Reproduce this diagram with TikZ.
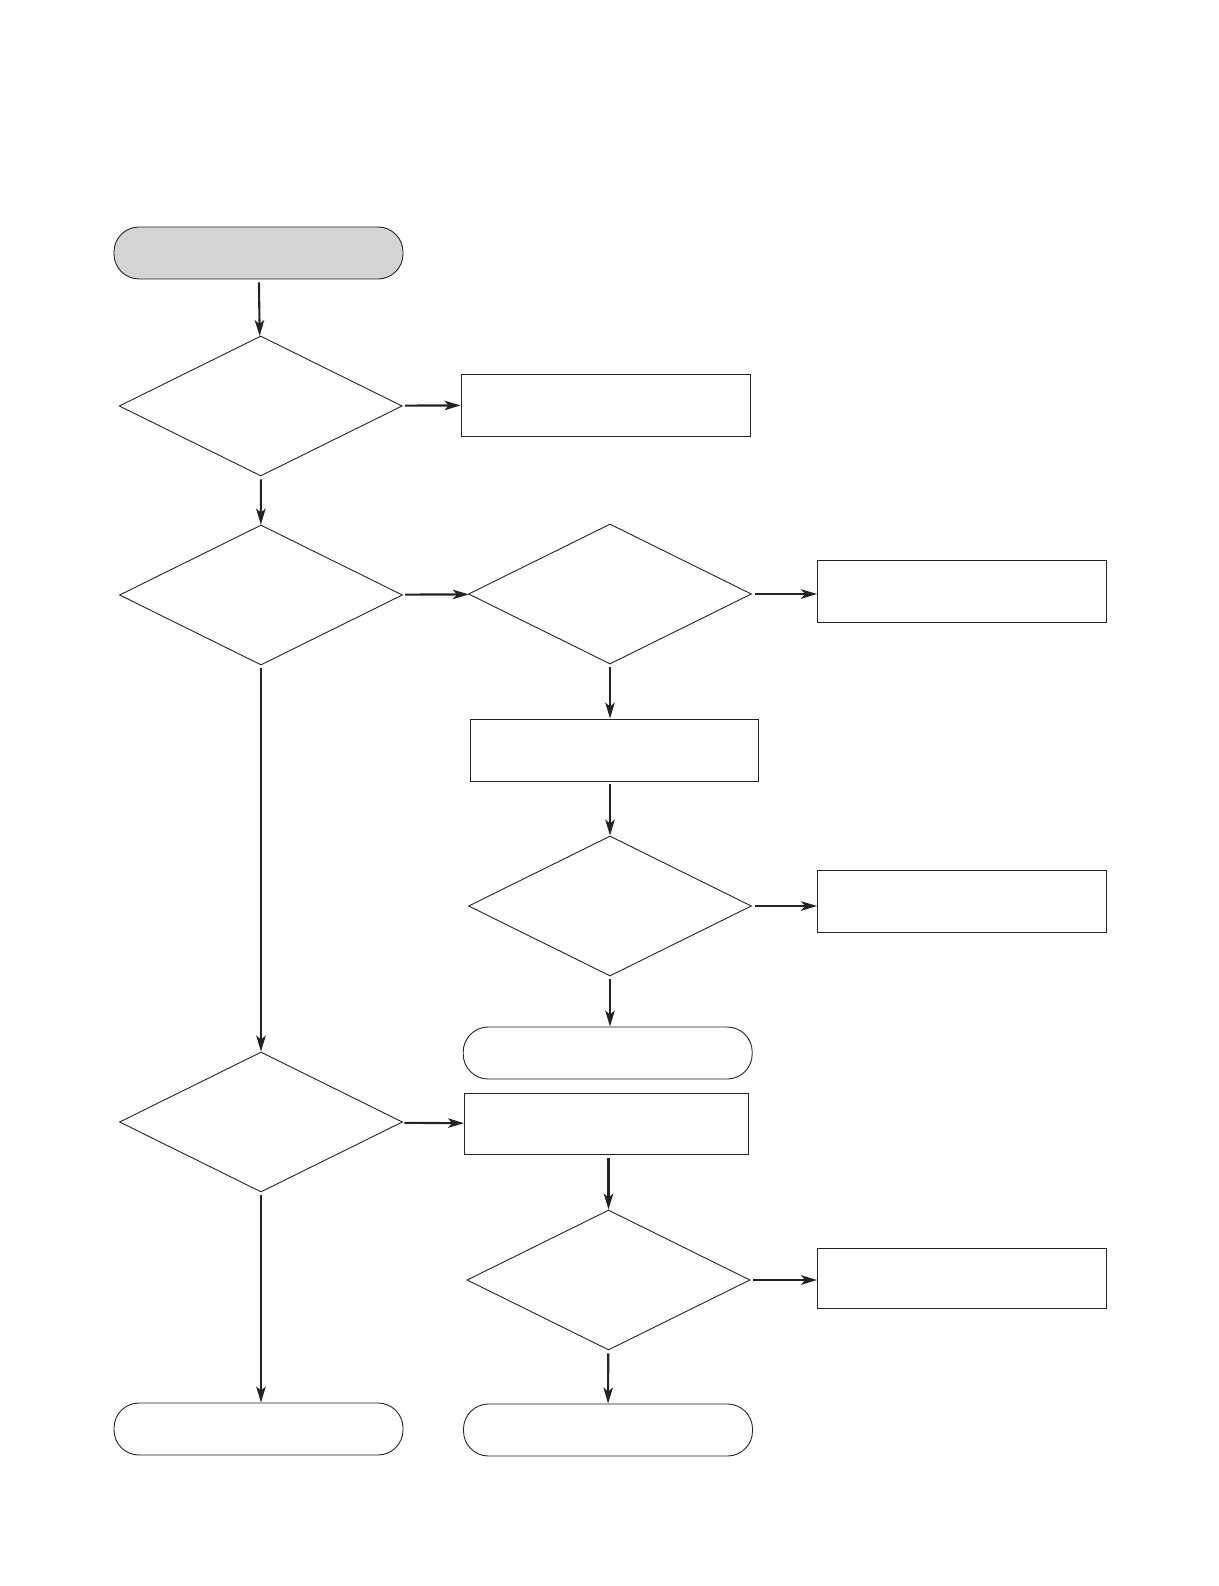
\documentclass[tikz,border=0pt]{standalone}
\usepackage{tikz}
\usetikzlibrary{shapes.geometric, arrows.meta, positioning}
\definecolor{inkcol}{RGB}{35,35,35}
\definecolor{startgray}{RGB}{212,212,212}

\begin{document}
\begin{tikzpicture}[x=1pt, y=-1pt,
    every node/.style={draw=inkcol, line width=0.9pt, inner sep=0pt},
    decision/.style={diamond, aspect=2, minimum width=283pt, minimum height=140pt},
    process/.style={rectangle, minimum width=289pt, minimum height=62pt},
    terminal/.style={rectangle, rounded corners=25pt, minimum width=289pt, minimum height=52pt},
    flow/.style={draw=inkcol, line width=2.1pt, shorten <=3pt,
                 -{Stealth[length=16pt, width=9.5pt, inset=4pt]}}]
  \useasboundingbox (0,0) rectangle (1218,1586);
  % left column
  \node[terminal, fill=startgray] (start) at (258.5,253) {};
  \node[decision] (chkA) at (260.7,406) {};
  \node[decision] (chkB) at (261,595) {};
  \node[decision] (chkE) at (261,1122) {};
  \node[terminal] (endA) at (258.5,1429) {};
  % middle column
  \node[process] (fixA) at (605.5,405) {};
  \node[decision] (chkC) at (610,594) {};
  \node[process, minimum width=288pt] (stepA) at (614.5,750) {};
  \node[decision] (chkD) at (610,906) {};
  \node[terminal] (endB) at (607.7,1053) {};
  \node[process, minimum width=284pt, minimum height=61pt] (stepB) at (606.5,1124) {};
  \node[decision] (chkF) at (608.5,1280) {};
  \node[terminal] (endC) at (608,1430) {};
  % right column
  \node[process] (fixB) at (962,591) {};
  \node[process] (fixC) at (962,901) {};
  \node[process, minimum height=60pt] (fixD) at (962,1278) {};

  \draw[flow] (start) -- (chkA);
  \draw[flow] (chkA) -- (fixA);
  \draw[flow] (chkA) -- (chkB);
  \draw[flow] (chkB) -- (chkC);
  \draw[flow] (chkC.east) -- (fixB.west |- chkC.east);
  \draw[flow] (chkC.south) -- (stepA.north -| chkC.south);
  \draw[flow] (stepA.south -| chkD.north) -- (chkD);
  \draw[flow] (chkD.east) -- (fixC.west |- chkD.east);
  \draw[flow] (chkD.south) -- (endB.north -| chkD.south);
  \draw[flow] (chkB) -- (chkE);
  \draw[flow] (chkE) -- (stepB);
  \draw[flow] (stepB.south -| chkF.north) -- (chkF);
  \draw[flow] (chkF.east) -- (fixD.west |- chkF.east);
  \draw[flow] (chkE.south) -- (endA.north -| chkE.south);
  \draw[flow] (chkF) -- (endC);
\end{tikzpicture}
\end{document}
